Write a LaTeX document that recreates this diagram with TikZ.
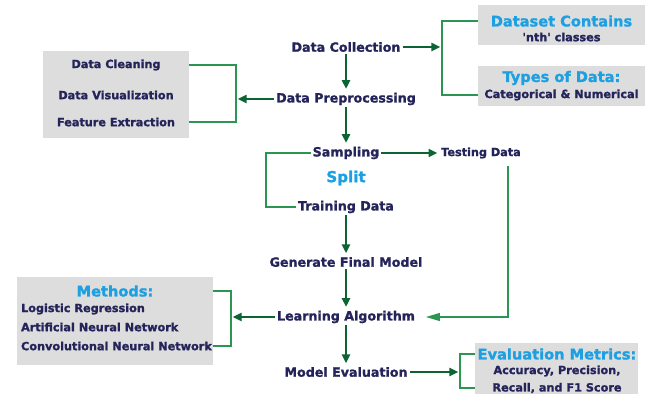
\documentclass[tikz,border=0pt]{standalone}
\usepackage{fontspec}
\setmainfont{DejaVu Sans}[BoldFeatures={FakeBold=1.4}]
\usetikzlibrary{arrows.meta}
\definecolor{navy}{RGB}{36,36,90}
\definecolor{skyblue}{RGB}{28,160,226}
\definecolor{darkgreen}{RGB}{12,100,52}
\definecolor{linegreen}{RGB}{42,150,82}
\definecolor{boxgray}{RGB}{221,221,221}

\begin{document}
\begin{tikzpicture}[x=0.02cm,y=-0.02cm,
        stage/.style={inner sep=1pt,text=navy,font=\fontsize{7.2}{8.6}\selectfont\bfseries},
        item/.style={inner sep=1pt,text=navy,font=\fontsize{6.4}{7.6}\selectfont\bfseries},
        head/.style={inner sep=1pt,text=skyblue,font=\fontsize{8.3}{10}\selectfont\bfseries},
        graybox/.style={fill=boxgray,inner sep=0pt},
        flow/.style={draw=darkgreen,line width=1.6pt,-{Triangle[length=5pt,width=4.5pt]},shorten >=1pt},
        bracket/.style={draw=linegreen,line width=0.8pt},
        thinflow/.style={draw=linegreen,line width=0.8pt,-{Triangle[length=8pt,width=4.5pt]}}]
        \useasboundingbox (0,0) rectangle (655,394);
        % gray boxes
        \node[graybox,minimum width=3.34cm,minimum height=0.8cm] (dsbox) at (561.5,25) {};
        \node[graybox,minimum width=3.34cm,minimum height=0.8cm] (typbox) at (561.5,86) {};
        \node[graybox,minimum width=2.92cm,minimum height=1.74cm] (prepbox) at (116,94.5) {};
        \node[graybox,minimum width=3.92cm,minimum height=1.76cm] (methbox) at (115,321) {};
        \node[graybox,minimum width=3.26cm,minimum height=1.02cm] (evalbox) at (556.5,368.5) {};
        % main column
        \node[stage] (collect) at (346,47) {Data Collection};
        \node[stage] (preproc) at (346,99) {Data Preprocessing};
        \node[stage] (sampling) at (346,153) {Sampling};
        \node[item] (testing) at (481,153) {Testing Data};
        \node[head,font=\fontsize{8.6}{10}\selectfont\bfseries] (split) at (346,178) {Split};
        \node[stage] (training) at (346,207) {Training Data};
        \node[stage] (final) at (346,262) {Generate Final Model};
        \node[stage] (learning) at (346,317) {Learning Algorithm};
        \node[stage] (evaluation) at (346,372) {Model Evaluation};
        % box texts
        \node[head] (dshead) at (561.5,21) {Dataset Contains};
        \node[item] (dssub) at (561.5,37) {\textquotesingle nth\textquotesingle\ classes};
        \node[head] (typhead) at (561.5,78) {Types of Data:};
        \node[item] (typsub) at (561.5,95) {Categorical \& Numerical};
        \node[item] (clean) at (116,65) {Data Cleaning};
        \node[item] (visual) at (116,95) {Data Visualization};
        \node[item] (feature) at (116,122) {Feature Extraction};
        \node[head] (methhead) at (115,291) {Methods:};
        \node[item,anchor=west] (logreg) at (19,309) {Logistic Regression};
        \node[item,anchor=west] (ann) at (19,327) {Artificial Neural Network};
        \node[item,anchor=west] (cnn) at (19,346) {Convolutional Neural Network};
        \node[head] (evalhead) at (557,354) {Evaluation Metrics:};
        \node[item] (evalacc) at (557,371) {Accuracy, Precision,};
        \node[item] (evalrec) at (557,388) {Recall, and F1 Score};
        % joints of the brackets
        \coordinate (dsjoin) at (442,47);
        \coordinate (prepjoin) at (236,99);
        \coordinate (splitjoin) at (266,180);
        \coordinate (testcorner) at (508,317);
        \coordinate (methjoin) at (231,317);
        \coordinate (evaljoin) at (460,372);
        % connectors
        \draw[flow] (collect) -- (preproc);
        \draw[flow] (collect) -- (dsjoin);
        \draw[bracket] (dsbox.west |- dshead) -| (dsjoin) |- (typbox.west |- typsub);
        \draw[flow] (preproc) -- (prepjoin);
        \draw[bracket] (prepbox.east |- clean) -| (prepjoin) |- (prepbox.east |- feature);
        \draw[flow] (preproc) -- (sampling);
        \draw[flow] (sampling) -- (testing);
        \draw[bracket] (sampling.west) -| (splitjoin) |- (training.west);
        \draw[flow] (training) -- (final);
        \draw[flow] (final) -- (learning);
        \draw[thinflow,shorten <=3pt,shorten >=5pt] (testing.south -| testcorner) -- (testcorner) -- (learning.east);
        \draw[flow] (learning) -- (methjoin);
        \draw[bracket] (methbox.east |- methhead) -| (methjoin) |- (methbox.east |- cnn);
        \draw[flow] (learning) -- (evaluation);
        \draw[flow] (evaluation) -- (evaljoin);
        \draw[bracket] (evalbox.west |- evalhead) -| (evaljoin) |- (evalbox.west |- evalrec);
\end{tikzpicture}
\end{document}
